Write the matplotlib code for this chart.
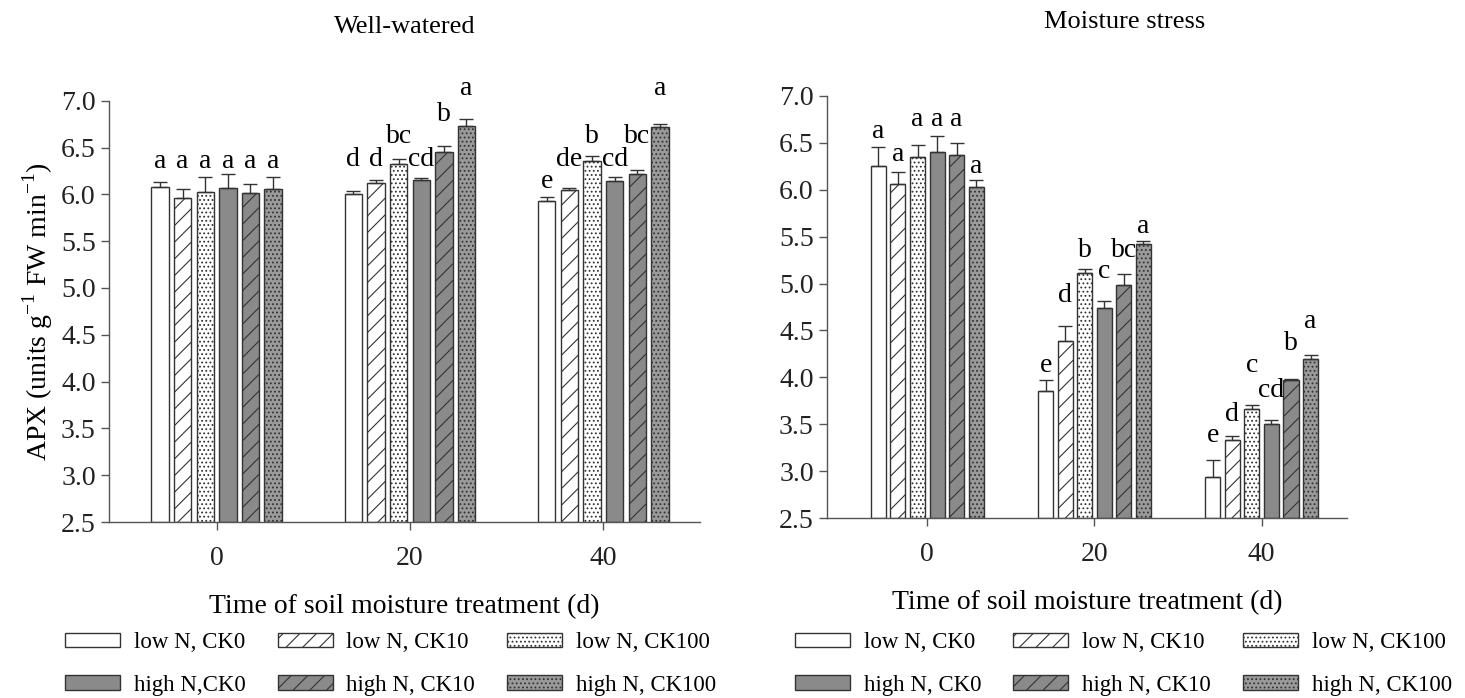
import numpy as np
import matplotlib
matplotlib.use("Agg")
import matplotlib.pyplot as plt

plt.rcParams['font.family'] = ['Liberation Serif', 'DejaVu Serif']
plt.rcParams['mathtext.fontset'] = 'custom'
plt.rcParams['mathtext.rm'] = 'Liberation Serif'
plt.rcParams['hatch.linewidth'] = 0.8

# --- data ---
days = ['0', '20', '40']
treatments = ['low N, CK0', 'low N, CK10', 'low N, CK100',
              'high N, CK0', 'high N, CK10', 'high N, CK100']
legend_left = ['low N, CK0', 'low N, CK10', 'low N, CK100',
               'high N,CK0', 'high N, CK10', 'high N, CK100']

# well-watered: rows = treatment, cols = day
ww_mean = [[6.08, 6.00, 5.93],
           [5.96, 6.12, 6.05],
           [6.02, 6.32, 6.36],
           [6.07, 6.15, 6.14],
           [6.01, 6.45, 6.22],
           [6.06, 6.73, 6.72]]
ww_err = [[0.05, 0.04, 0.04],
          [0.10, 0.03, 0.02],
          [0.16, 0.06, 0.05],
          [0.15, 0.02, 0.04],
          [0.10, 0.07, 0.04],
          [0.12, 0.07, 0.03]]
ww_letters = [['a', 'd', 'e'],
              ['a', 'd', 'de'],
              ['a', 'bc', 'b'],
              ['a', 'cd', 'cd'],
              ['a', 'b', 'bc'],
              ['a', 'a', 'a']]
ww_letter_y = [[6.28, 6.30, 6.07],
               [6.28, 6.30, 6.30],
               [6.28, 6.55, 6.55],
               [6.28, 6.30, 6.30],
               [6.28, 6.78, 6.55],
               [6.28, 7.06, 7.06]]

# moisture stress
ms_mean = [[6.25, 3.86, 2.94],
           [6.06, 4.39, 3.33],
           [6.35, 5.11, 3.66],
           [6.40, 4.74, 3.50],
           [6.37, 4.98, 3.97],
           [6.03, 5.42, 4.20]]
ms_err = [[0.20, 0.11, 0.18],
          [0.13, 0.16, 0.05],
          [0.13, 0.04, 0.05],
          [0.17, 0.07, 0.05],
          [0.13, 0.12, 0.01],
          [0.07, 0.03, 0.04]]
ms_letters = [['a', 'e', 'e'],
              ['a', 'd', 'd'],
              ['a', 'b', 'c'],
              ['a', 'c', 'cd'],
              ['a', 'bc', 'b'],
              ['a', 'a', 'a']]
ms_letter_y = [[6.55, 4.06, 3.31],
               [6.30, 4.80, 3.54],
               [6.68, 5.28, 4.06],
               [6.68, 5.06, 3.79],
               [6.68, 5.28, 4.29],
               [6.18, 5.54, 4.53]]

# bar styles
faces = ['white', 'white', 'white', '#8a8a8a', '#8a8a8a', '#9a9a9a']
hatches = [None, '//', '....', None, '//', '....']
EDGE = '#333333'
SLOT, WIDTH = 0.117, 0.09
FS = 20

fig = plt.figure(figsize=(14.65, 6.98), dpi=100)
ax_ww = fig.add_axes([0.0744, 0.2521, 0.4034, 0.6036])
ax_ms = fig.add_axes([0.5645, 0.2575, 0.3549, 0.6054])


def draw_panel(ax, mean, err, letters, letter_y, xlim):
    x = np.arange(len(days))
    handles = []
    for i in range(len(treatments)):
        pos = x + (i - 2.5) * SLOT
        m = np.array(mean[i])
        e = np.array(err[i])
        b = ax.bar(pos, m - 2.5, bottom=2.5, width=WIDTH, color=faces[i],
                   edgecolor=EDGE, linewidth=1.0, hatch=hatches[i], zorder=2)
        ax.errorbar(pos, m, yerr=[np.zeros_like(e), e], fmt='none',
                    ecolor=EDGE, elinewidth=1.0, capsize=5, capthick=1.0, zorder=3)
        for j in range(len(days)):
            ax.text(pos[j], letter_y[i][j], letters[i][j], ha='center',
                    va='baseline', fontsize=FS, clip_on=False)
        handles.append(b)
    ticks = np.arange(2.5, 7.01, 0.5)
    ax.set_ylim(2.5, 7.0)
    ax.set_yticks(ticks)
    ax.set_yticklabels([f'{v:.1f}' for v in ticks])
    ax.set_xlim(*xlim)
    ax.set_xticks(x)
    ax.set_xticklabels(days)
    for s in ['top', 'right']:
        ax.spines[s].set_visible(False)
    for s in ['left', 'bottom']:
        ax.spines[s].set_color('#555555')
        ax.spines[s].set_linewidth(1.0)
    ax.tick_params(axis='both', direction='out', length=6, width=1.0,
                   color='#555555', labelsize=FS, colors='#222222')
    ax.tick_params(axis='x', pad=11)
    ax.set_xlabel('Time of soil moisture treatment (d)', fontsize=FS, labelpad=17)
    return handles


h_ww = draw_panel(ax_ww, ww_mean, ww_err, ww_letters, ww_letter_y, (-0.556, 2.5))
h_ms = draw_panel(ax_ms, ms_mean, ms_err, ms_letters, ms_letter_y, (-0.6, 2.51))

ax_ww.set_ylabel('APX (units g$^{-1}$ FW min$^{-1}$)', fontsize=FS, labelpad=4)

fig.text(405 / 1465, 1 - 27 / 698, 'Well-watered', ha='center', va='center', fontsize=19)
fig.text(1125 / 1465, 1 - 22 / 698, 'Moisture stress', ha='center', va='center', fontsize=19)

# legends: row-wise order for ncol=3 (matplotlib fills columns first)
order = [0, 3, 1, 4, 2, 5]
for handles, labels, x0 in [(h_ww, legend_left, 65), (h_ms, treatments, 795)]:
    fig.legend([handles[k] for k in order], [labels[k] for k in order],
               ncol=3, loc='upper left', bbox_to_anchor=(x0 / 1465, 1 - 632 / 698),
               frameon=False, fontsize=16.5, handlelength=2.4, handleheight=0.6,
               handletextpad=0.6, columnspacing=1.4, labelspacing=0.95,
               borderpad=0, borderaxespad=0)

fig.savefig('out.png', dpi=100)
